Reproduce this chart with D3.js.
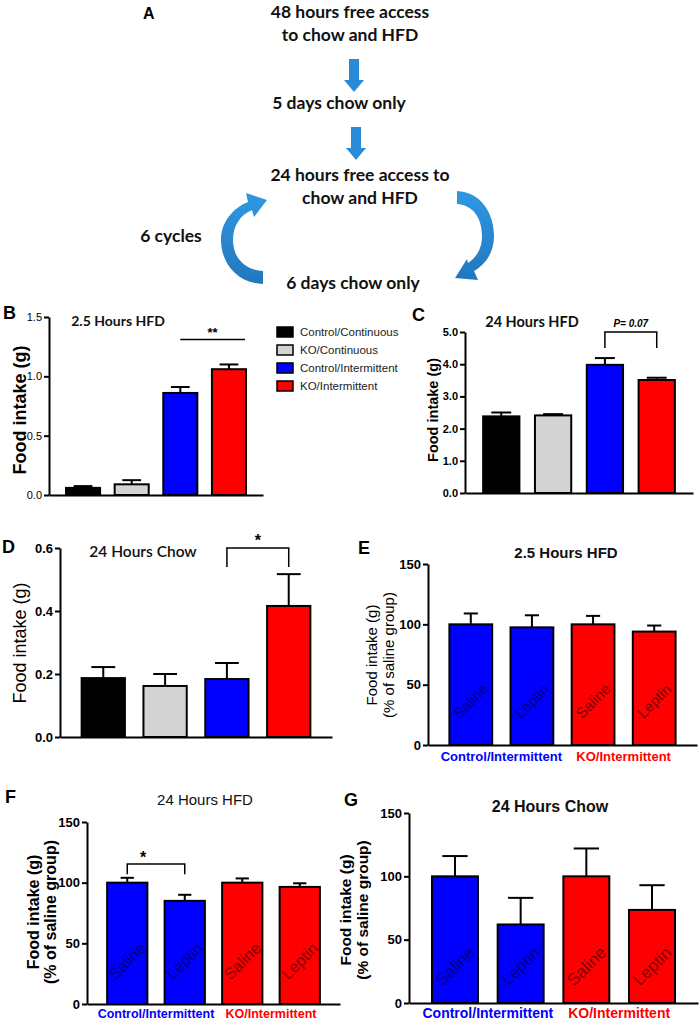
<!DOCTYPE html>
<html>
<head>
<meta charset="utf-8">
<script src="https://cdnjs.cloudflare.com/ajax/libs/d3/7.8.5/d3.min.js"></script>
<style>
  body { margin: 0; background: #fff; }
  svg { display: block; }
</style>
</head>
<body>
<svg id="fig" width="700" height="1021"></svg>
<script>
// ---- data ----
const groups4 = ["Control/Continuous", "KO/Continuous", "Control/Intermittent", "KO/Intermittent"];
const groupColors = ["#000000", "#d3d3d3", "#0000ff", "#ff0000"];

// B: 2.5 h HFD intake (g)
const hfd25Mean = [0.06, 0.09, 0.86, 1.06];
const hfd25Sem = [0.015, 0.035, 0.05, 0.04];
// C: 24 h HFD intake (g)
const hfd24Mean = [2.38, 2.41, 3.98, 3.51];
const hfd24Sem = [0.12, 0.04, 0.21, 0.07];
// D: 24 h chow intake (g)
const chow24Mean = [0.187, 0.162, 0.184, 0.416];
const chow24Sem = [0.035, 0.038, 0.051, 0.101];

const treatments = ["Saline", "Leptin", "Saline", "Leptin"];
const treatColors = ["#0000ff", "#0000ff", "#ff0000", "#ff0000"];
const pairLabels = ["Control/Intermittent", "KO/Intermittent"];
const pairColors = ["#0000ff", "#ff0000"];

// E, F, G: % of saline group
const lepHfd25Mean = [100, 97.5, 100, 94];
const lepHfd25Sem = [9, 10, 7, 5];
const lepHfd24Mean = [100, 85, 100, 96.5];
const lepHfd24Sem = [4, 5, 3.5, 3];
const lepChow24Mean = [100, 62, 100, 73.5];
const lepChow24Sem = [16, 21, 22, 19.5];

const ticksB = [0, 0.5, 1.0, 1.5];
const ticksC = [0, 1, 2, 3, 4, 5];
const ticksD = [0, 0.2, 0.4, 0.6];
const ticksPct = [0, 50, 100, 150];

const flowSteps = [
  ["48 hours free access", "to chow and HFD"],
  ["5 days chow only"],
  ["24 hours free access to", "chow and HFD"],
  ["6 days chow only"]
];

const ARIAL = "'Liberation Sans', Arial, sans-serif";
const CALIBRI = "Lato, 'Open Sans', sans-serif";
const svg = d3.select("#fig");

// ---- panel A: flow diagram ----
const flowBlue = "#2a8ad6";
const flow = svg.append("g").attr("font-family", CALIBRI).attr("font-weight", "bold")
  .attr("font-size", 17.5).attr("fill", "#111").attr("text-anchor", "middle");

svg.append("text").attr("x", 143).attr("y", 19).attr("font-family", ARIAL)
  .attr("font-weight", "bold").attr("font-size", 16).text("A");

const flowY = [[12, 35], [103], [175, 198], [283]];
const flowX = [350, 339, 360, 353];
flowSteps.forEach((lines, i) => {
  lines.forEach((t, j) => {
    flow.append("text").attr("x", flowX[i]).attr("y", flowY[i][j]).attr("dy", "0.35em").text(t);
  });
});
flow.append("text").attr("x", 171).attr("y", 236).attr("dy", "0.35em").text("6 cycles");

const downArrow = (cx, y0, y1) => {
  const hw = 5, hh = 10, hl = 12;
  return `M${cx - hw},${y0} H${cx + hw} V${y1 - hl} H${cx + hh} L${cx},${y1} L${cx - hh},${y1 - hl} H${cx - hw} Z`;
};
svg.append("path").attr("d", downArrow(354, 59, 92)).attr("fill", flowBlue);
svg.append("path").attr("d", downArrow(356, 127, 160)).attr("fill", flowBlue);

// curved cycle arrows (crescent shapes)
const grad = svg.append("defs").append("linearGradient").attr("id", "cyc")
  .attr("x1", 0).attr("y1", 0).attr("x2", 0).attr("y2", 1);
grad.append("stop").attr("offset", "0%").attr("stop-color", "#2e98e2");
grad.append("stop").attr("offset", "100%").attr("stop-color", "#2277bd");
svg.append("path")
  .attr("d", "M263,284 C236,283 221,262 221,240 C221,222 233,208 248,202 L246,193 L267,200 L254,217 L252,210 C240,215 233,226 233,240 C233,258 245,270 263,271 Z")
  .attr("fill", "url(#cyc)");
svg.append("path")
  .attr("d", "M457,191 C480,192 494,212 494,236 C494,252 486,264 474,271 L478,280 L455,278 L467,259 L468,263 C477,257 482,248 482,236 C482,218 473,205 457,204 Z")
  .attr("fill", "url(#cyc)");

// ---- bar panel helper ----
function barPanel(cfg) {
  const g = svg.append("g");
  const x = d3.scaleBand().domain(d3.range(cfg.mean.length))
    .range([cfg.x0, cfg.x1]).paddingInner(0.3).paddingOuter(0.35);
  const y = d3.scaleLinear().domain([0, cfg.max]).range([cfg.yb, cfg.yt]);

  const yAx = g.append("g").attr("transform", `translate(${cfg.x0},0)`)
    .call(d3.axisLeft(y).tickValues(cfg.ticks).tickFormat(cfg.fmt).tickSize(5).tickSizeOuter(0).tickPadding(2));
  g.append("g").attr("transform", `translate(0,${cfg.yb})`)
    .call(d3.axisBottom(x).tickValues([]).tickSizeOuter(0));
  g.selectAll(".domain").attr("stroke", "#000").attr("stroke-width", 2);
  yAx.selectAll(".tick line").attr("stroke", "#000").attr("stroke-width", 2);
  yAx.selectAll(".tick text").attr("fill", "#000").attr("font-family", ARIAL)
    .attr("font-size", cfg.tickSize).attr("font-weight", cfg.tickWeight);

  // error bars (upper only)
  const capW = x.bandwidth() * cfg.cap;
  cfg.mean.forEach((m, i) => {
    const cx = x(i) + x.bandwidth() / 2;
    g.append("line").attr("x1", cx).attr("x2", cx)
      .attr("y1", y(m)).attr("y2", y(m + cfg.sem[i])).attr("stroke", "#000").attr("stroke-width", 2);
    g.append("line").attr("x1", cx - capW / 2).attr("x2", cx + capW / 2)
      .attr("y1", y(m + cfg.sem[i])).attr("y2", y(m + cfg.sem[i])).attr("stroke", "#000").attr("stroke-width", 2);
  });

  g.selectAll("rect.bar").data(cfg.mean).join("rect").attr("class", "bar")
    .attr("x", (d, i) => x(i)).attr("width", x.bandwidth())
    .attr("y", d => y(d)).attr("height", d => y(0) - y(d))
    .attr("fill", (d, i) => cfg.colors[i]).attr("stroke", "#000").attr("stroke-width", 2);

  // in-bar treatment labels
  if (cfg.barText) {
    cfg.barText.forEach((t, i) => {
      const cx = x(i) + x.bandwidth() / 2;
      g.append("text").attr("transform", `translate(${cx},${cfg.yb - cfg.barTextOff}) rotate(-45)`)
        .attr("text-anchor", "middle").attr("dy", "0.35em").attr("font-family", ARIAL)
        .attr("font-size", cfg.barTextSize).attr("fill", "#000").attr("fill-opacity", 0.55).text(t);
    });
  }

  // pair labels under x axis
  if (cfg.pairs) {
    cfg.pairs.forEach((t, k) => {
      const cx = (x(2 * k) + x(2 * k + 1) + x.bandwidth()) / 2;
      g.append("text").attr("x", cx).attr("y", cfg.yb + cfg.pairOff).attr("text-anchor", "middle")
        .attr("font-family", ARIAL).attr("font-weight", "bold").attr("font-size", cfg.pairSize)
        .attr("fill", pairColors[k]).text(t);
    });
  }

  // y label (one or two lines)
  cfg.ylab.forEach((t, k) => {
    g.append("text").attr("transform", `translate(${cfg.ylabX[k]},${cfg.ylabY}) rotate(-90)`)
      .attr("text-anchor", "middle").attr("dy", "0.35em").attr("font-family", ARIAL)
      .attr("font-weight", cfg.ylabWeight).attr("font-size", cfg.ylabSize).attr("fill", "#000").text(t);
  });

  // title and panel letter
  g.append("text").attr("x", cfg.titleX).attr("y", cfg.titleY).attr("dy", "0.35em")
    .attr("text-anchor", "middle").attr("font-family", cfg.titleFont).attr("font-weight", cfg.titleWeight)
    .attr("font-size", cfg.titleSize).attr("fill", "#111").text(cfg.title);
  g.append("text").attr("x", cfg.letterX).attr("y", cfg.letterY).attr("dy", "0.35em")
    .attr("font-family", ARIAL).attr("font-weight", "bold").attr("font-size", 18).text(cfg.letter);

  // significance marks
  if (cfg.sig) {
    const s = cfg.sig;
    const xa = x(s.from) + x.bandwidth() / 2 + (s.dxa || 0);
    const xb = x(s.to) + x.bandwidth() / 2 + (s.dxb || 0);
    const yl = y(s.level);
    let d = `M${xa},${yl} H${xb}`;
    if (s.leg !== undefined) d = `M${xa},${y(s.leg)} V${yl} H${xb} V${y(s.leg)}`;
    g.append("path").attr("d", d).attr("fill", "none").attr("stroke", "#000").attr("stroke-width", 1.5);
    g.append("text").attr("x", (xa + xb) / 2 + (s.dxt || 0)).attr("y", yl - s.textOff).attr("text-anchor", "middle")
      .attr("font-family", ARIAL).attr("font-weight", "bold").attr("font-style", s.italic ? "italic" : "normal")
      .attr("font-size", s.size).text(s.text);
  }
  return { x, y };
}

const fmt1 = d3.format(".1f");
const fmt0 = d3.format("d");

// B
barPanel({
  mean: hfd25Mean, sem: hfd25Sem, colors: groupColors, max: 1.5, ticks: ticksB, fmt: fmt1,
  x0: 49, x1: 263, yb: 495, yt: 317, cap: 0.55, tickSize: 11, tickWeight: "normal",
  ylab: ["Food intake (g)"], ylabX: [20], ylabY: 410, ylabSize: 18, ylabWeight: "bold",
  title: "2.5 Hours HFD", titleX: 118, titleY: 321, titleFont: CALIBRI, titleWeight: "bold", titleSize: 14,
  letter: "B", letterX: 3, letterY: 313,
  sig: { from: 2, to: 3, dxb: 16, level: 1.31, text: "**", size: 13, textOff: 3 }
});

// C
barPanel({
  mean: hfd24Mean, sem: hfd24Sem, colors: groupColors, max: 5, ticks: ticksC, fmt: fmt1,
  x0: 465, x1: 693, yb: 493, yt: 332, cap: 0.55, tickSize: 11, tickWeight: "bold",
  ylab: ["Food intake (g)"], ylabX: [433], ylabY: 410, ylabSize: 14.5, ylabWeight: "bold",
  title: "24 Hours HFD", titleX: 532, titleY: 322, titleFont: CALIBRI, titleWeight: "bold", titleSize: 14.5,
  letter: "C", letterX: 412, letterY: 315,
  sig: { from: 2, to: 3, level: 5.0, leg: 4.5, text: "P= 0.07", italic: true, size: 10, textOff: 5 }
});

// D
barPanel({
  mean: chow24Mean, sem: chow24Sem, colors: groupColors, max: 0.6, ticks: ticksD, fmt: fmt1,
  x0: 60, x1: 332, yb: 737, yt: 548, cap: 0.55, tickSize: 13, tickWeight: "bold",
  ylab: ["Food intake (g)"], ylabX: [20], ylabY: 643, ylabSize: 18, ylabWeight: "normal",
  title: "24 Hours Chow", titleX: 143, titleY: 552, titleFont: CALIBRI, titleWeight: "600", titleSize: 15.5,
  letter: "D", letterX: 2, letterY: 547,
  sig: { from: 2, to: 3, level: 0.6, leg: 0.54, text: "*", size: 16, textOff: 2 }
});

// E
barPanel({
  mean: lepHfd25Mean, sem: lepHfd25Sem, colors: treatColors, max: 150, ticks: ticksPct, fmt: fmt0,
  x0: 428, x1: 697, yb: 745, yt: 564, cap: 0.33, tickSize: 13, tickWeight: "bold",
  barText: treatments, barTextOff: 44, barTextSize: 15,
  pairs: pairLabels, pairOff: 16, pairSize: 13,
  ylab: ["Food intake (g)", "(% of saline group)"], ylabX: [372, 389], ylabY: 655, ylabSize: 15, ylabWeight: "normal",
  title: "2.5 Hours HFD", titleX: 566, titleY: 553, titleFont: ARIAL, titleWeight: "bold", titleSize: 15,
  letter: "E", letterX: 358, letterY: 548
});

// F
barPanel({
  mean: lepHfd24Mean, sem: lepHfd24Sem, colors: treatColors, max: 150, ticks: ticksPct, fmt: fmt0,
  x0: 87, x1: 340, yb: 1004, yt: 822, cap: 0.33, tickSize: 13, tickWeight: "bold",
  barText: treatments, barTextOff: 43, barTextSize: 16,
  pairs: pairLabels, pairOff: 14, pairSize: 12.5,
  ylab: ["Food intake (g)", "(% of saline group)"], ylabX: [33, 50], ylabY: 912, ylabSize: 16, ylabWeight: "bold",
  title: "24 Hours HFD", titleX: 205, titleY: 800, titleFont: ARIAL, titleWeight: "normal", titleSize: 15,
  letter: "F", letterX: 5, letterY: 797,
  sig: { from: 0, to: 1, level: 115.4, leg: 107, text: "*", size: 16, textOff: 1, dxt: -13 }
});

// G
barPanel({
  mean: lepChow24Mean, sem: lepChow24Sem, colors: treatColors, max: 150, ticks: ticksPct, fmt: fmt0,
  x0: 409, x1: 698, yb: 1003, yt: 813, cap: 0.55, tickSize: 13, tickWeight: "bold",
  barText: treatments, barTextOff: 37, barTextSize: 17,
  pairs: pairLabels, pairOff: 15, pairSize: 14,
  ylab: ["Food intake (g)", "(% of saline group)"], ylabX: [346, 363], ylabY: 910, ylabSize: 15.5, ylabWeight: "bold",
  title: "24 Hours Chow", titleX: 550, titleY: 806, titleFont: ARIAL, titleWeight: "bold", titleSize: 16,
  letter: "G", letterX: 344, letterY: 800
});

// legend
const leg = svg.append("g").attr("font-family", ARIAL).attr("font-size", 11.5);
const legY = d3.scalePoint().domain(groups4).range([332, 386]);
groups4.forEach((gname, i) => {
  leg.append("rect").attr("x", 277).attr("y", legY(gname) - 5).attr("width", 16).attr("height", 10)
    .attr("fill", groupColors[i]).attr("stroke", "#000").attr("stroke-width", 1.5);
  leg.append("text").attr("x", 300).attr("y", legY(gname)).attr("dy", "0.35em").attr("fill", "#222").text(gname);
});
</script>
</body>
</html>
